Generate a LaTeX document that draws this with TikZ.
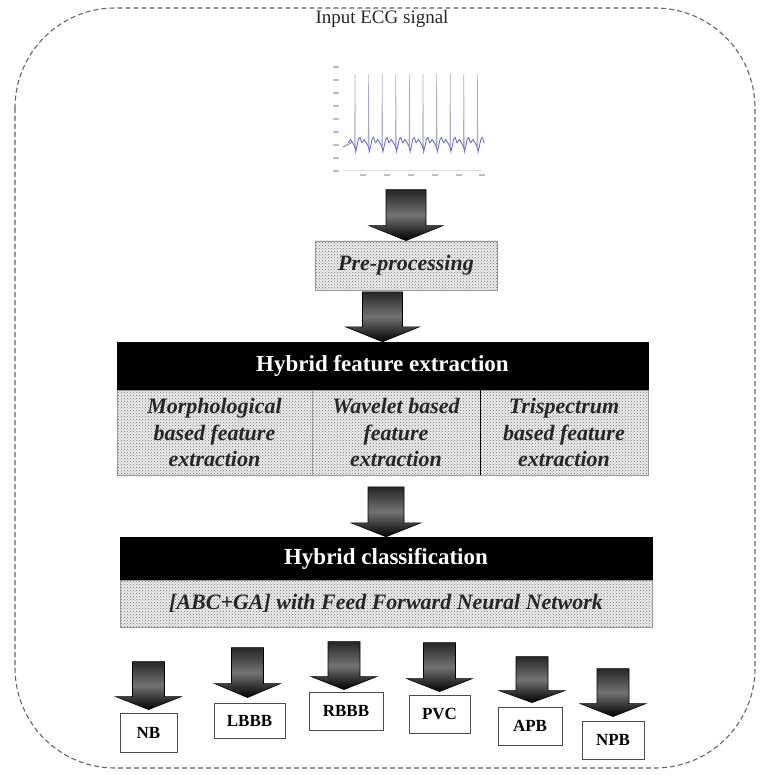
\documentclass[tikz,border=0pt]{standalone}
\usepackage{fontspec}
\setmainfont{Liberation Serif}
\usetikzlibrary{calc,patterns}
\definecolor{ecglow}{RGB}{110,110,205}
\definecolor{ecgspike}{RGB}{170,170,205}
\tikzset{
  dotbox/.style={draw=gray!80, line width=0.8pt, pattern=crosshatch dots, pattern color=black!55,
    preaction={fill=gray!15}, inner sep=0pt, align=center,
    font=\fontsize{22}{26.4}\selectfont\bfseries\itshape, text=black!85},
  bandbox/.style={fill=black, draw=black, text=white, inner sep=0pt,
    font=\fontsize{23}{27}\selectfont\bfseries},
  classbox/.style={draw=black!70, line width=0.9pt, fill=white, inner sep=0pt,
    font=\fontsize{17}{20}\selectfont\bfseries},
  blockarrow/.style={draw=black, line width=0.6pt, top color=black!85, bottom color=black, middle color=black!55},
  ticklab/.style={gray!50, line width=1.4pt},
}
% #1 target node anchor, #2 length, #3 head length, #4 shaft half width, #5 head half width
\newcommand\barrow[5]{%
  \path[blockarrow] ($(#1)+(-#4,-#2)$) -- ($(#1)+(#4,-#2)$) -- ($(#1)+(#4,-#3)$)
    -- ($(#1)+(#5,-#3)$) -- (#1) -- ($(#1)+(-#5,-#3)$) -- ($(#1)+(-#4,-#3)$) -- cycle;}
\begin{document}
\begin{tikzpicture}[x=1pt,y=-1pt]
\useasboundingbox (0,0) rectangle (763,775);
% outer dashed frame
\draw[gray!80!black, dash pattern=on 5pt off 3pt, line width=1.1pt, rounded corners=100pt]
  (15,8) rectangle (755,768);

% title
\node[font=\fontsize{19}{22}\selectfont, text=black!85] (title) at (382,19) {Input ECG signal};

% ECG plot
\coordinate (ecg) at (412,120);
\foreach \yy in {67,80,93,106,119,132,145,158,171}
  \draw[ticklab] (333,\yy) -- (339,\yy);
\foreach \xx in {363,387,411,435,459,482}
  \draw[ticklab] (\xx-3,175) -- (\xx+3,175);
\draw[gray!25, line width=0.6pt] (343,170) -- (482,170);
\draw[ecglow, line width=0.8pt] (343,147) -- (349,144) -- (352,142);
\foreach \i in {0,...,9}{
  \pgfmathsetmacro\x{355+13.6*\i}
  \draw[ecgspike, line width=0.6pt] (\x-0.4,146) -- (\x,74) -- (\x+0.5,154) -- (\x+1,148);
  \draw[ecglow, line width=0.9pt] (\x-6.8,143) -- (\x-4.5,139.5) -- (\x-2.5,142.5) -- (\x-0.6,146)
    -- (\x+0.8,151) -- (\x+2,146) -- (\x+3.5,139) -- (\x+5,137.5) -- (\x+6.8,143);
}

% pre-processing
\node[dotbox, minimum width=182pt, minimum height=49pt] (pre) at (406,265.5) {Pre-processing};
\barrow{pre.north}{51}{15}{20}{37}

% hybrid feature extraction
\node[bandbox, minimum width=531pt, minimum height=48pt] (hfe) at (382.5,366) {Hybrid feature extraction};
\barrow{hfe.north}{50}{15}{20}{37}
\node[dotbox, minimum width=195pt, minimum height=85pt] (c1) at (214.5,432.5) {Morphological\\based feature\\extraction};
\node[dotbox, minimum width=168pt, minimum height=85pt] (c2) at (396,432.5) {Wavelet based\\feature\\extraction};
\node[dotbox, minimum width=168pt, minimum height=85pt] (c3) at (564,432.5) {Trispectrum\\based feature\\extraction};
\draw[black, line width=0.9pt] (c2.north east) -- (c2.south east);

% hybrid classification
\node[bandbox, minimum width=532pt, minimum height=43pt] (hc) at (386,558.5) {Hybrid classification};
\barrow{hc.north}{50}{14}{18}{35}
\node[dotbox, minimum width=532pt, minimum height=47pt] (ffnn) at (386,603.5) {[ABC+GA] with Feed Forward Neural Network};

% output classes
\node[classbox, minimum width=57pt, minimum height=39pt] (nb) at (148.5,732.5) {NB};
\node[classbox, minimum width=71pt, minimum height=35pt] (lbbb) at (249.5,720.5) {LBBB};
\node[classbox, minimum width=74pt, minimum height=38pt] (rbbb) at (346,711) {RBBB};
\node[classbox, minimum width=61pt, minimum height=38pt] (pvc) at (439.5,714) {PVC};
\node[classbox, minimum width=64pt, minimum height=38pt] (apb) at (530,726) {APB};
\node[classbox, minimum width=62pt, minimum height=38pt] (npb) at (613,740) {NPB};
\coordinate (tnb) at ($(nb.north)+(0,-3)$);
\coordinate (tlbbb) at ($(lbbb.north)+(-2,-5)$);
\coordinate (trbbb) at ($(rbbb.north)+(-2,-2)$);
\coordinate (tpvc) at ($(pvc.north)+(0,-3)$);
\coordinate (tapb) at ($(apb.north)+(2,-4)$);
\coordinate (tnpb) at ($(npb.north)+(0,-4)$);
\barrow{tnb}{48}{13}{16}{33}
\barrow{tlbbb}{50}{14}{16}{33}
\barrow{trbbb}{48}{13}{16}{33}
\barrow{tpvc}{49}{13}{16}{33}
\barrow{tapb}{46}{12}{16}{33}
\barrow{tnpb}{48}{13}{16}{33}
\end{tikzpicture}
\end{document}
